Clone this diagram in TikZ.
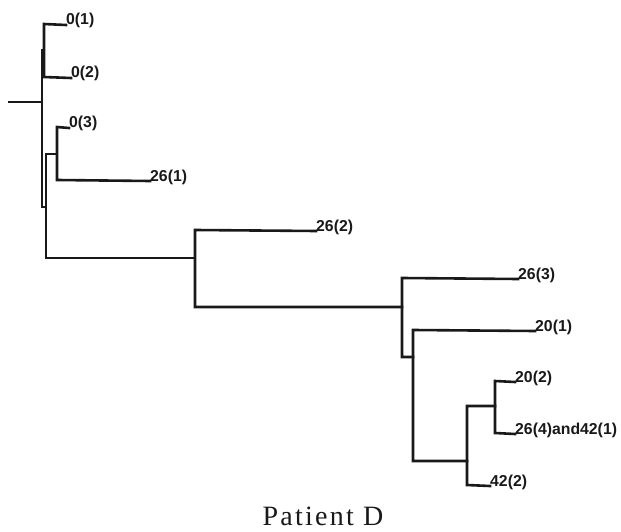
\documentclass[tikz,border=0pt]{standalone}
\usepackage{fontspec}
\setmainfont{Liberation Serif}
\newfontfamily\labfont{Liberation Sans}
\newfontfamily\titfont[LetterSpace=8]{Liberation Serif}
\begin{document}
\begin{tikzpicture}[x=1pt,y=-1pt,
  br/.style={line width=2.6pt,line cap=rect,black!90},
  leaf/.style={anchor=base west,inner sep=0pt,font=\labfont\bfseries\fontsize{15.8}{16}\selectfont,text=black!90},
  title/.style={font=\titfont\fontsize{28}{30}\selectfont,text=black!90}]
\useasboundingbox (0,0) rectangle (621,532);
% internal coordinates
\coordinate (r0) at (9,102);
\coordinate (r) at (42,102);
% leaves
\node[leaf] (l01) at (66,25) {0(1)};
\node[leaf] (l02) at (71,78) {0(2)};
\node[leaf] (l03) at (69,128) {0(3)};
\node[leaf] (l261) at (150,181) {26(1)};
\node[leaf] (l262) at (316,231) {26(2)};
\node[leaf] (l263) at (518,279) {26(3)};
\node[leaf] (l201) at (535,331) {20(1)};
\node[leaf] (l202) at (515,382) {20(2)};
\node[leaf] (l264) at (515,434) {26(4)and42(1)};
\node[leaf] (l422) at (490,486) {42(2)};
\node[title] (t) at (323,516) {Patient D};
% tree
\draw[br] (r0) -- (r);
\draw[br] (42,50) -- (42,207) -- (46,207);
\draw[br] (42,50) -- (44,50);
\draw[br] (l01.base west) -- (44,24) -- (44,77) -- (l02.base west);
\draw[br] (46,154) -- (46,258);
\draw[br] (46,154) -- (57,154);
\draw[br] (l03.base west) -- (57,127) -- (57,180) -- (l261.base west);
\draw[br] (46,258) -- (195,258);
\draw[br] (l262.base west) -- (195,230) -- (195,307) -- (402,307);
\draw[br] (l263.base west) -- (402,278) -- (402,357) -- (413,357);
\draw[br] (l201.base west) -- (413,330) -- (413,461) -- (467,461);
\draw[br] (495,406) -- (467,406) -- (467,485) -- (l422.base west);
\draw[br] (l202.base west) -- (495,381) -- (495,433) -- (l264.base west);
\end{tikzpicture}
\end{document}
